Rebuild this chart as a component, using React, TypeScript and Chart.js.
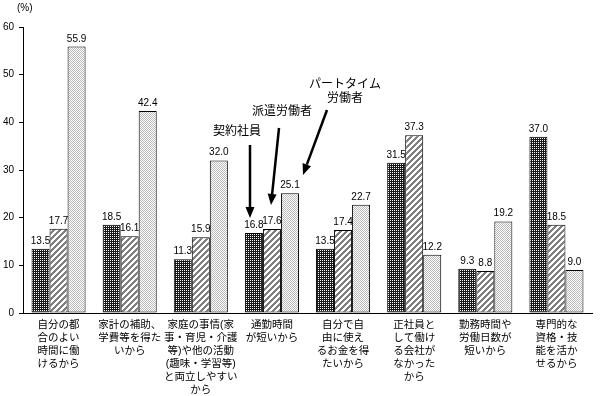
import React, { useEffect, useRef } from "react";
import { Chart, registerables } from "chart.js";

Chart.register(...registerables);

const categories: string[][] = [
  ["自分の都", "合のよい", "時間に働", "けるから"],
  ["家計の補助、", "学費等を得た", "いから"],
  ["家庭の事情(家", "事・育児・介護", "等)や他の活動", "(趣味・学習等)", "と両立しやすい", "から"],
  ["通勤時間", "が短いから"],
  ["自分で自", "由に使え", "るお金を得", "たいから"],
  ["正社員と", "して働け", "る会社が", "なかった", "から"],
  ["勤務時間や", "労働日数が", "短いから"],
  ["専門的な", "資格・技", "能を活か", "せるから"],
];

const seriesNames = ["契約社員", "派遣労働者", "パートタイム労働者"];
const keiyaku = [13.5, 18.5, 11.3, 16.8, 13.5, 31.5, 9.3, 37.0];
const haken = [17.7, 16.1, 15.9, 17.6, 17.4, 37.3, 8.8, 18.5];
const part = [55.9, 42.4, 32.0, 25.1, 22.7, 12.2, 19.2, 9.0];

const yTicks = [0, 10, 20, 30, 40, 50, 60];

const NUM_FONT = '"Liberation Sans", Arial, sans-serif';
const JP_FONT = '"Liberation Sans", "Noto Sans CJK JP", sans-serif';

function makePattern(w: number, h: number, fn: (x: number, y: number) => [number, number, number]) {
  const c = document.createElement("canvas");
  c.width = w;
  c.height = h;
  const ctx = c.getContext("2d")!;
  const img = ctx.createImageData(w, h);
  for (let y = 0; y < h; y++) {
    for (let x = 0; x < w; x++) {
      const [r, g, b] = fn(x, y);
      const i = (y * w + x) * 4;
      img.data[i] = r;
      img.data[i + 1] = g;
      img.data[i + 2] = b;
      img.data[i + 3] = 255;
    }
  }
  ctx.putImageData(img, 0, 0);
  return ctx.createPattern(c, "repeat")!;
}

function drawArrow(ctx: CanvasRenderingContext2D, x1: number, y1: number, x2: number, y2: number) {
  const ang = Math.atan2(y2 - y1, x2 - x1);
  const headLen = 11;
  const headW = 4.5;
  const bx = x2 - headLen * Math.cos(ang);
  const by = y2 - headLen * Math.sin(ang);
  ctx.save();
  ctx.strokeStyle = "#000";
  ctx.fillStyle = "#000";
  ctx.lineWidth = 2.5;
  ctx.beginPath();
  ctx.moveTo(x1, y1);
  ctx.lineTo(bx, by);
  ctx.stroke();
  ctx.beginPath();
  ctx.moveTo(x2, y2);
  ctx.lineTo(bx + headW * Math.sin(ang), by - headW * Math.cos(ang));
  ctx.lineTo(bx - headW * Math.sin(ang), by + headW * Math.cos(ang));
  ctx.closePath();
  ctx.fill();
  ctx.restore();
}

export default function App() {
  const ref = useRef<HTMLCanvasElement | null>(null);

  useEffect(() => {
    document.body.style.margin = "0";
    const canvas = ref.current!;
    const dark = makePattern(2, 2, (x, y) => (x === 0 && y === 0 ? [255, 255, 255] : [24, 24, 24]));
    const hatch = makePattern(6, 6, (x, y) => ((x + y) % 6 < 3 ? [128, 128, 128] : [255, 255, 255]));
    const light = makePattern(2, 2, (x, y) => ((x + y) % 2 === 0 ? [187, 187, 187] : [255, 255, 255]));

    const fills = [dark, hatch, light];
    const values = [keiyaku, haken, part];

    const overlay = {
      id: "overlay",
      afterDatasetsDraw(chart: any) {
        const ctx = chart.ctx as CanvasRenderingContext2D;
        ctx.save();
        ctx.fillStyle = "#000";
        ctx.font = `10px ${NUM_FONT}`;
        ctx.textAlign = "center";
        ctx.textBaseline = "alphabetic";
        chart.data.datasets.forEach((ds: any, di: number) => {
          const meta = chart.getDatasetMeta(di);
          meta.data.forEach((el: any, i: number) => {
            ctx.fillText(Number(ds.data[i]).toFixed(1), el.x, el.y - 5);
          });
        });
        ctx.font = `10px ${JP_FONT}`;
        ctx.textAlign = "left";
        ctx.textBaseline = "middle";
        ctx.fillText("(%)", 17, 8);
        ctx.font = `12px ${JP_FONT}`;
        ctx.textAlign = "center";
        ctx.fillText(seriesNames[0], 237, 132);
        ctx.fillText(seriesNames[1], 282, 112);
        ctx.fillText("パートタイム", 345, 85);
        ctx.fillText("労働者", 345, 99);
        ctx.restore();
        drawArrow(ctx, 250, 145, 250, 218);
        drawArrow(ctx, 279, 128, 271, 205);
        drawArrow(ctx, 327, 110, 303, 175);
      },
    };

    const chart = new Chart(canvas, {
      type: "bar",
      data: {
        labels: categories,
        datasets: seriesNames.map((name, i) => ({
          label: name,
          data: values[i],
          backgroundColor: fills[i],
          borderColor: "#000",
          borderWidth: 1,
          borderSkipped: false,
          categoryPercentage: 0.76,
          barPercentage: 1.0,
        })),
      },
      options: {
        responsive: false,
        animation: false,
        devicePixelRatio: 1,
        layout: { padding: { top: 27, right: 10, left: 0, bottom: 0 } },
        plugins: { legend: { display: false }, tooltip: { enabled: false } },
        scales: {
          x: {
            grid: { display: false },
            border: { display: true, color: "#000", width: 1 },
            ticks: {
              color: "#000",
              font: { family: JP_FONT, size: 10.5, lineHeight: 13 / 10.5 },
              padding: -2,
              maxRotation: 0,
              minRotation: 0,
              autoSkip: false,
            },
            afterFit(scale: any) {
              scale.height = 83;
            },
          },
          y: {
            min: 0,
            max: 60,
            afterBuildTicks(scale: any) {
              scale.ticks = yTicks.map((v) => ({ value: v }));
            },
            grid: { display: true, drawOnChartArea: false, drawTicks: true, tickLength: 4, color: "#000" },
            border: { display: true, color: "#000", width: 1 },
            ticks: {
              color: "#000",
              font: { family: NUM_FONT, size: 10 },
              padding: 5,
            },
            afterFit(scale: any) {
              scale.width = 23;
            },
          },
        },
      },
      plugins: [overlay],
    });
    return () => chart.destroy();
  }, []);

  return <canvas ref={ref} width={602} height={396} style={{ display: "block" }} />;
}
